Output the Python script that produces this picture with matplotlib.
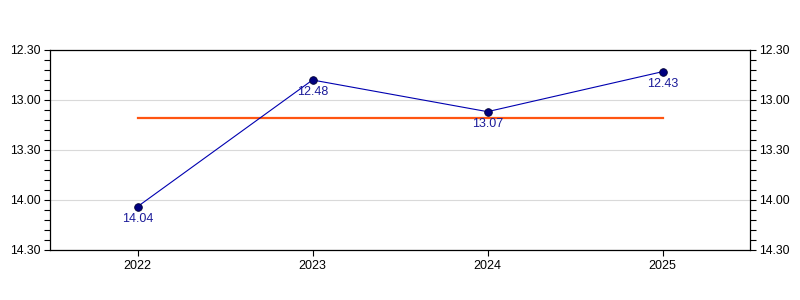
import matplotlib
matplotlib.use("Agg")
import matplotlib.pyplot as plt
from matplotlib.ticker import MultipleLocator, FuncFormatter

years = ["2022", "2023", "2024", "2025"]
times = ["14.04", "12.48", "13.07", "12.43"]   # minutes.seconds
average = "13.11"
y_top = "12.30"
y_bottom = "14.30"


def to_sec(s):
    m, sec = s.split(".")
    return int(m) * 60 + int(sec)


def fmt(v, pos=None):
    v = int(round(v))
    return f"{v // 60}.{v % 60:02d}"


plt.rcParams['font.family'] = ['Liberation Sans', 'DejaVu Sans']

fig = plt.figure(figsize=(8, 3), dpi=100)
ax = fig.add_axes([50 / 800, 50 / 300, 700 / 800, 200 / 300])

x = list(range(len(years)))
secs = [to_sec(t) for t in times]

ax.plot(x, secs, color="#0000b0", lw=0.8, zorder=3)
ax.plot(x, secs, "o", ms=5.5, color="#000080", mec="#000033", mew=0.6, zorder=4)
for xi, s, t in zip(x, secs, times):
    ax.annotate(t, (xi, s), xytext=(0, -4.5), textcoords="offset points",
                ha="center", va="top", fontsize=9, color="#1a1a99", zorder=5)

avg = to_sec(average)
ax.plot([x[0], x[-1]], [avg, avg], color="#ff5511", lw=1.6, zorder=2)

ax.set_xlim(-0.5, len(years) - 0.5)
ax.set_ylim(to_sec(y_bottom), to_sec(y_top))
ax.set_xticks(x)
ax.set_xticklabels(years, fontsize=9)
ax.yaxis.set_major_locator(MultipleLocator(30))
ax.yaxis.set_minor_locator(MultipleLocator(6))
ax.yaxis.set_major_formatter(FuncFormatter(fmt))
ax.tick_params(axis="y", which="both", length=4, width=0.8, labelsize=8.7,
               left=True, right=True, labelleft=True, labelright=True, pad=2.5)
ax.tick_params(axis="x", length=4, width=0.8, pad=3)
ax.grid(axis="y", which="major", color="#d9d9d9", lw=0.8, zorder=0)
for sp in ax.spines.values():
    sp.set_linewidth(0.9)

fig.savefig("out.png", dpi=100)
